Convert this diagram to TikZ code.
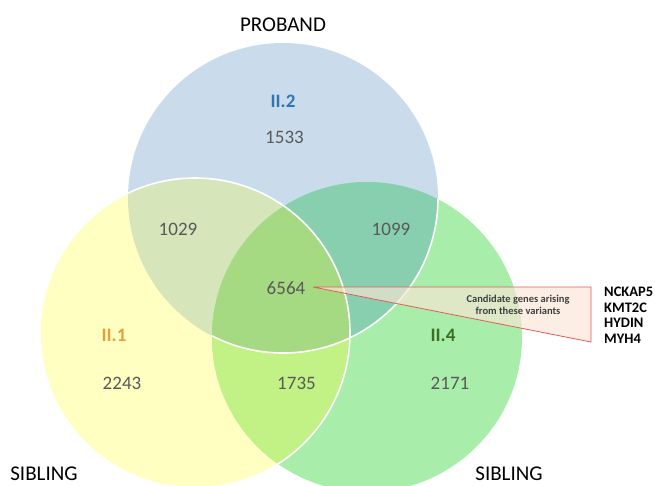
\documentclass[tikz,border=0pt]{standalone}
\usepackage{fontspec}
\setmainfont{Carlito}
\definecolor{cblue}{HTML}{CADCEC}
\definecolor{cyellow}{HTML}{FFFFC2}
\definecolor{cgreen}{HTML}{A9EDAA}
\definecolor{cby}{HTML}{D6E5BA}
\definecolor{cbg}{HTML}{88CFAF}
\definecolor{cyg}{HTML}{C2F286}
\definecolor{cbyg}{HTML}{A6DA82}
\definecolor{numgrey}{HTML}{595959}
\definecolor{lblue}{HTML}{2E75B6}
\definecolor{lorange}{HTML}{E0A040}
\definecolor{lgreen}{HTML}{3B6E22}
\definecolor{callred}{HTML}{E35B5B}
\definecolor{callfill}{HTML}{FBE5D6}
\definecolor{calltext}{HTML}{404040}
\tikzset{
  num/.style={inner sep=0pt, text=numgrey, font=\fontsize{19}{22}\selectfont},
  setlab/.style={inner sep=0pt, font=\bfseries\fontsize{19}{22}\selectfont},
  grouplab/.style={inner sep=0pt, text=black, font=\fontsize{21}{24}\selectfont},
  gene/.style={inner sep=0pt, anchor=base west, text=black, font=\bfseries\fontsize{14.5}{16}\selectfont},
  calloutbox/.style={draw=callred, line width=0.8pt, fill=callfill, fill opacity=0.65, line join=miter},
  ring/.style={draw=white, line width=1.6pt}
}
\begin{document}
\begin{tikzpicture}[x=1pt,y=-1pt]
\useasboundingbox (0,0) rectangle (655,485);
\clip (0,0) rectangle (655,485);
\coordinate (cb) at (283,198);
\coordinate (cy) at (195,333);
\coordinate (cg) at (367,337);
% single-set fills
\fill[cblue] (cb) circle[radius=155pt];
\fill[cyellow] (cy) circle[radius=155pt];
\fill[cgreen] (cg) circle[radius=155pt];
% yellow & green
\begin{scope}
  \clip (cy) circle[radius=155pt];
  \fill[cyg] (cg) circle[radius=155pt];
\end{scope}
% blue overlaps
\begin{scope}
  \clip (cb) circle[radius=155pt];
  \fill[cby] (cy) circle[radius=155pt];
  \fill[cbg] (cg) circle[radius=155pt];
  \clip (cy) circle[radius=155pt];
  \fill[cbyg] (cg) circle[radius=155pt];
\end{scope}
% white outlines
\path[ring] (cy) circle[radius=155pt];
\begin{scope}
  \clip (cg) circle[radius=155pt];
  \path[ring] (cb) circle[radius=155pt];
\end{scope}
% labels
\node[grouplab] (proband) at (283,25) {PROBAND};
\node[grouplab] (sibl) at (44,474) {SIBLING};
\node[grouplab] (sibr) at (509,474) {SIBLING};
\node[setlab, text=lblue] (s2) at (283,101) {II.2};
\node[setlab, text=lorange] (s1) at (114,335) {II.1};
\node[setlab, text=lgreen] (s4) at (443,335) {II.4};
\node[num] (n1533) at (284.5,137.5) {1533};
\node[num] (n1029) at (178,229) {1029};
\node[num] (n1099) at (391,229) {1099};
\node[num] (n6564) at (286,288) {6564};
\node[num] (n2243) at (122,383) {2243};
\node[num] (n1735) at (296.5,383) {1735};
\node[num] (n2171) at (450,383) {2171};
% callout
\coordinate (t1) at (313,287);
\coordinate (t2) at (591,287);
\coordinate (t3) at (591,342);
\path[calloutbox] (t1) -- (t2) -- (t3) -- cycle;
\node[inner sep=0pt, align=center, text=calltext, font=\bfseries\fontsize{10.5}{12.5}\selectfont] (ctext) at (518,305) {Candidate genes arising\\from these variants};
% genes
\node[gene] (g1) at (604,296.5) {NCKAP5};
\node[gene] (g2) at (604,312.2) {KMT2C};
\node[gene] (g3) at (604,327.9) {HYDIN};
\node[gene] (g4) at (604,343.6) {MYH4};
\end{tikzpicture}
\end{document}
